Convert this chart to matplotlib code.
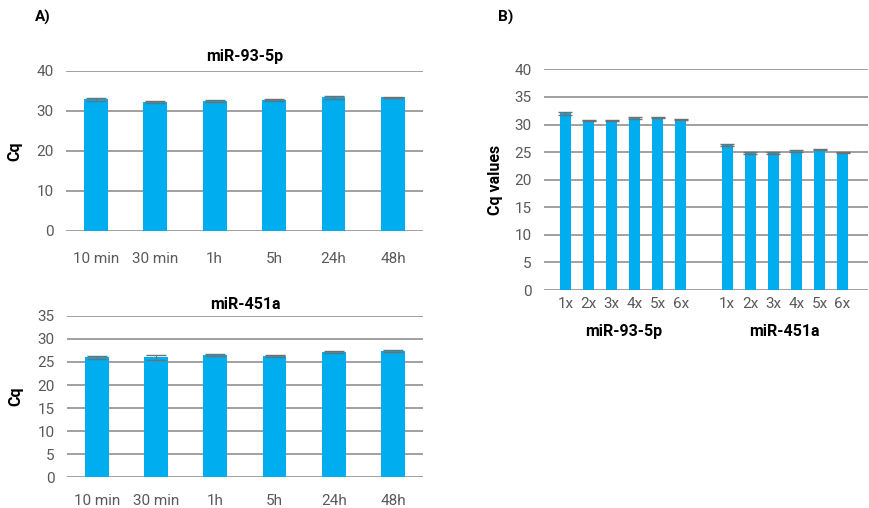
import matplotlib.pyplot as plt
import numpy as np

# panel A data
times = ['10 min', '30 min', '1h', '5h', '24h', '48h']
cq_93 = [32.9, 32.2, 32.5, 32.8, 33.4, 33.4]
err_93 = [0.4, 0.3, 0.2, 0.2, 0.3, 0.2]
cq_451 = [26.0, 26.0, 26.5, 26.3, 27.1, 27.4]
err_451 = [0.3, 0.5, 0.2, 0.2, 0.2, 0.2]

# panel B data
reps = ['1x', '2x', '3x', '4x', '5x', '6x']
b_93 = [32.0, 30.7, 30.7, 31.2, 31.2, 30.9]
b_93_err = [0.2, 0.1, 0.1, 0.2, 0.1, 0.1]
b_451 = [26.3, 24.9, 24.9, 25.2, 25.4, 24.9]
b_451_err = [0.2, 0.2, 0.2, 0.1, 0.1, 0.1]

blue = '#00aeef'
grid = '#a0a0a0'
tick_col = '#595959'
err_col = '#707070'

plt.rcParams['font.family'] = ['Roboto', 'DejaVu Sans']

fig = plt.figure(figsize=(8.7, 5.08), dpi=100)


def style(ax, ymax, step):
    ax.set_ylim(0, ymax)
    ax.set_yticks(np.arange(0, ymax + 1, step))
    ax.yaxis.grid(True, color=grid, linewidth=1.4)
    ax.set_axisbelow(True)
    for s in ax.spines.values():
        s.set_visible(False)
    ax.tick_params(length=0, colors=tick_col, labelsize=11)
    ax.tick_params(axis='y', pad=9)


ekw = dict(ecolor=err_col, capsize=7, elinewidth=0.8, capthick=1)

# A top
ax1 = fig.add_axes([0.0759, 0.5453, 0.410, 0.315])
x = np.arange(len(times))
ax1.bar(x, cq_93, width=0.40, color=blue, yerr=err_93, error_kw=ekw)
style(ax1, 40, 10)
ax1.set_xlim(-0.5, len(times) - 0.5)
ax1.set_xticks(x)
ax1.set_xticklabels(times)
ax1.tick_params(axis='x', pad=15)
ax1.set_ylabel('Cq', fontweight='bold', fontsize=11.5, labelpad=10)
ax1.set_title('miR-93-5p', fontweight='bold', fontsize=11.5, pad=7)

# A bottom
ax2 = fig.add_axes([0.077, 0.0604, 0.409, 0.318])
ax2.bar(x, cq_451, width=0.40, color=blue, yerr=err_451, error_kw=ekw)
style(ax2, 35, 5)
ax2.set_xlim(-0.5, len(times) - 0.5)
ax2.set_xticks(x)
ax2.set_xticklabels(times)
ax2.tick_params(axis='x', pad=12)
ax2.set_ylabel('Cq', fontweight='bold', fontsize=11.5, labelpad=10)
ax2.set_title('miR-451a', fontweight='bold', fontsize=11.5, pad=5)

# B
ax3 = fig.add_axes([0.6253, 0.4291, 0.3724, 0.4344])
xb1 = np.arange(6)
xb2 = np.arange(6) + 7
ekw_b = dict(ecolor=err_col, capsize=5, elinewidth=0.8, capthick=1)
ax3.bar(xb1, b_93, width=0.48, color=blue, yerr=b_93_err, error_kw=ekw_b)
ax3.bar(xb2, b_451, width=0.48, color=blue, yerr=b_451_err, error_kw=ekw_b)
style(ax3, 40, 5)
ax3.set_xlim(-0.93, 13.1)
ax3.set_xticks(np.concatenate([xb1, xb2]))
ax3.set_xticklabels(reps + reps)
ax3.tick_params(axis='x', pad=5)
ax3.set_ylabel('Cq values', fontweight='bold', fontsize=11.5, labelpad=8)
ax3.text(xb1.mean(), -7.5, 'miR-93-5p', ha='center', va='center',
         fontweight='bold', fontsize=11.5)
ax3.text(xb2.mean(), -7.5, 'miR-451a', ha='center', va='center',
         fontweight='bold', fontsize=11.5)

fig.text(0.040, 0.965, 'A)', fontweight='bold', fontsize=11, va='center')
fig.text(0.572, 0.965, 'B)', fontweight='bold', fontsize=11, va='center')

fig.savefig('out.png', dpi=100)
